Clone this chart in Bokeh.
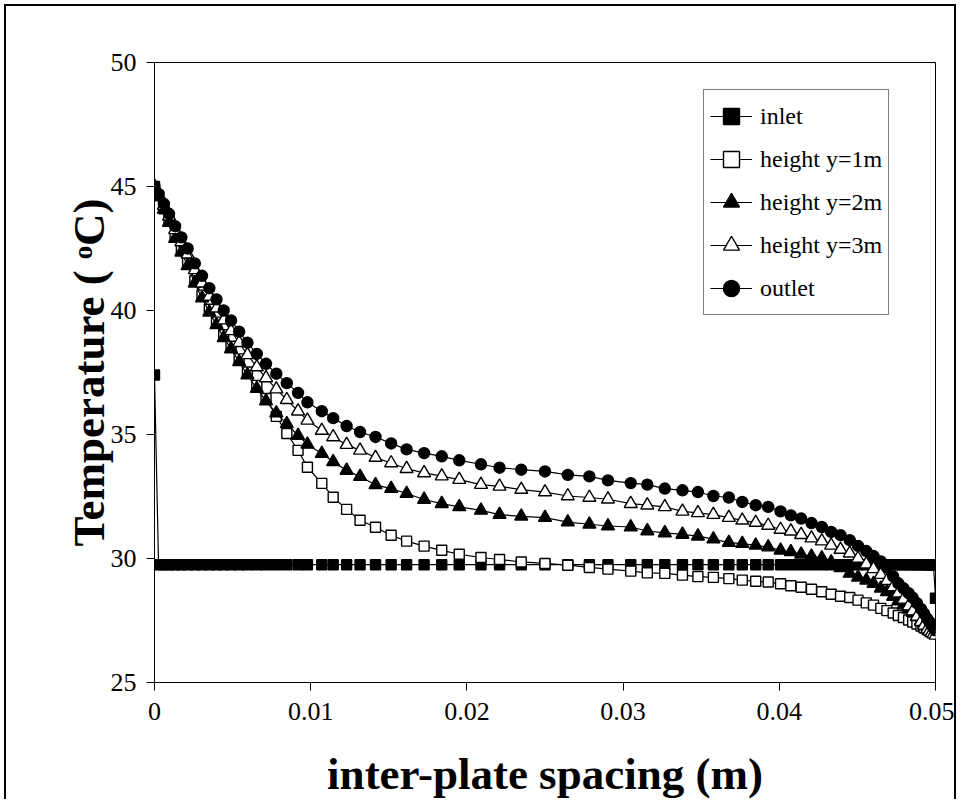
import math
from bokeh.plotting import figure
from bokeh.models import Range1d, FixedTicker, NumeralTickFormatter, Legend, LegendItem
from bokeh.embed import file_html
from bokeh.resources import INLINE

# inter-plate spacing grid (m)
x_m = [0, 0.00026, 0.0006, 0.00093, 0.00132, 0.00172, 0.00212, 0.00258, 0.00304, 0.00351,
       0.00397, 0.00443, 0.0049, 0.00542, 0.00595, 0.00655, 0.00714, 0.0078, 0.00847, 0.00919,
       0.00979, 0.01071, 0.01144, 0.0123, 0.01316, 0.01415, 0.01515, 0.01614, 0.01726, 0.01839,
       0.01951, 0.0209, 0.02209, 0.02348, 0.025, 0.02646, 0.02784, 0.02903, 0.03049, 0.03155,
       0.03267, 0.0338, 0.03479, 0.03578, 0.03677, 0.03763, 0.03849, 0.03929, 0.04008, 0.04074,
       0.0414, 0.04206, 0.04272, 0.04332, 0.04392, 0.04451, 0.04504, 0.04557, 0.04603, 0.0465,
       0.04689, 0.04729, 0.04762, 0.04795, 0.04828, 0.04854, 0.04881, 0.04907, 0.04927, 0.04947,
       0.0496, 0.04974, 0.04987, 0.05]

inlet = [37.4] + [29.75] * 72 + [28.4]

height_1m = [45.0, 44.62, 44.1, 43.6, 42.98, 42.43, 41.9, 41.2, 40.62, 40.05,
             39.53, 39.02, 38.56, 38.05, 37.52, 36.98, 36.45, 35.73, 35.04, 34.36,
             33.68, 33.03, 32.47, 31.98, 31.54, 31.26, 30.94, 30.70, 30.50, 30.33,
             30.17, 30.04, 29.96, 29.86, 29.80, 29.73, 29.64, 29.57, 29.49, 29.42,
             29.40, 29.33, 29.27, 29.24, 29.19, 29.13, 29.08, 29.05, 28.98, 28.90,
             28.84, 28.76, 28.66, 28.56, 28.48, 28.43, 28.32, 28.21, 28.12, 27.99,
             27.90, 27.80, 27.70, 27.62, 27.52, 27.44, 27.36, 27.28, 27.21, 27.15,
             27.10, 27.06, 27.03, 27.00]

height_2m = [45.0, 44.6, 44.08, 43.55, 42.9, 42.35, 41.8, 41.1, 40.5, 39.93,
             39.42, 38.9, 38.45, 37.93, 37.4, 36.85, 36.35, 35.86, 35.43, 34.96,
             34.6, 34.23, 33.9, 33.55, 33.3, 32.97, 32.82, 32.62, 32.38, 32.21,
             32.08, 31.94, 31.77, 31.70, 31.65, 31.47, 31.38, 31.31, 31.27, 31.11,
             31.03, 30.97, 30.90, 30.78, 30.64, 30.60, 30.53, 30.46, 30.33, 30.27,
             30.17, 30.09, 30.02, 29.85, 29.63, 29.40, 29.24, 29.12, 28.99, 28.80,
             28.66, 28.47, 28.28, 28.12, 27.95, 27.82, 27.65, 27.50, 27.38, 27.27,
             27.20, 27.13, 27.07, 27.00]

height_3m = [45.0, 44.67, 44.23, 43.8, 43.25, 42.76, 42.27, 41.64, 41.1, 40.57,
             40.09, 39.61, 39.18, 38.7, 38.21, 37.72, 37.28, 36.83, 36.40, 35.94,
             35.57, 35.16, 34.90, 34.59, 34.36, 34.07, 33.85, 33.62, 33.45, 33.32,
             33.18, 32.98, 32.91, 32.78, 32.68, 32.52, 32.46, 32.39, 32.21, 32.15,
             32.08, 31.90, 31.84, 31.77, 31.65, 31.54, 31.45, 31.33, 31.17, 31.10,
             30.96, 30.82, 30.70, 30.53, 30.36, 30.21, 30.00, 29.77, 29.58, 29.35,
             29.10, 28.85, 28.60, 28.35, 28.08, 27.88, 27.66, 27.45, 27.30, 27.15,
             27.07, 27.00, 26.95, 26.90]

outlet = [45.0, 44.7, 44.3, 43.9, 43.4, 42.95, 42.5, 41.9, 41.4, 40.9,
          40.45, 40.0, 39.6, 39.15, 38.7, 38.25, 37.85, 37.45, 37.07, 36.68,
          36.30, 35.94, 35.66, 35.34, 35.10, 34.90, 34.64, 34.40, 34.25, 34.12,
          33.96, 33.80, 33.66, 33.58, 33.51, 33.37, 33.31, 33.15, 33.04, 32.98,
          32.82, 32.75, 32.68, 32.52, 32.46, 32.28, 32.15, 32.08, 31.90, 31.74,
          31.61, 31.43, 31.27, 31.07, 30.94, 30.74, 30.51, 30.30, 30.10, 29.88,
          29.65, 29.28, 29.00, 28.80, 28.60, 28.42, 28.20, 27.97, 27.78, 27.58,
          27.45, 27.32, 27.20, 27.10]

series_names = ["inlet", "height y=1m", "height y=2m", "height y=3m", "outlet"]
x_ticks = [0, 0.01, 0.02, 0.03, 0.04, 0.05]
y_ticks = [25, 30, 35, 40, 45, 50]

FONT = "Liberation Serif"

p = figure(width=952, height=795, x_range=Range1d(0, 0.05), y_range=Range1d(25, 50),
           output_backend="svg", toolbar_location=None,
           min_border_left=148, min_border_right=23, min_border_top=56, min_border_bottom=118)
p.styles = {"margin-left": "4px", "margin-top": "4px",
            "border-left": "2px solid black", "border-top": "2px solid black",
            "border-right": "2px solid black"}
p.background_fill_color = "white"
p.border_fill_color = "white"
p.outline_line_color = "black"
p.outline_line_width = 1
p.xgrid.visible = False
p.ygrid.visible = False

for ax in (p.xaxis[0], p.yaxis[0]):
    ax.axis_line_color = "black"
    ax.major_tick_line_color = "black"
    ax.major_tick_out = 8
    ax.major_tick_in = 0
    ax.minor_tick_line_color = None
    ax.major_label_text_font = FONT
    ax.major_label_text_font_size = "26px"
    ax.major_label_text_color = "black"
    ax.axis_label_text_font = FONT
    ax.axis_label_text_font_size = "45px"
    ax.axis_label_text_font_style = "bold"
    ax.axis_label_text_color = "black"

p.xaxis.ticker = FixedTicker(ticks=x_ticks)
p.xaxis.formatter = NumeralTickFormatter(format="0.[00]")
p.xaxis.major_label_standoff = 12
p.xaxis.axis_label = "inter-plate spacing (m)"
p.xaxis.axis_label_standoff = 26
p.yaxis.ticker = FixedTicker(ticks=y_ticks)
p.yaxis.major_label_standoff = 10
p.yaxis.axis_label = "Temperature ( ᵒC)"
p.yaxis.axis_label_standoff = -6

styles = [
    dict(marker="square", size=10, fill="black"),
    dict(marker="square", size=10, fill="white"),
    dict(marker="triangle", size=13, fill="black"),
    dict(marker="triangle", size=13, fill="white"),
    dict(marker="circle", size=11, fill="black"),
]
data = [inlet, height_1m, height_2m, height_3m, outlet]

items = []
for name, ys, st in zip(series_names, data, styles):
    ln = p.line(x_m, ys, line_color="black", line_width=1.2)
    sc = p.scatter(x_m, ys, marker=st["marker"], size=st["size"], fill_color=st["fill"],
                   line_color="black", line_width=1.4)
    items.append(LegendItem(label=name, renderers=[ln, sc]))

legend = Legend(items=items, location=(549, 367))
legend.label_text_font = FONT
legend.label_text_font_size = "24px"
legend.label_text_color = "black"
legend.border_line_color = "black"
legend.border_line_width = 1
legend.background_fill_color = "white"
legend.background_fill_alpha = 1
legend.glyph_width = 42
legend.glyph_height = 40
legend.label_height = 40
legend.label_standoff = 8
legend.spacing = 3
legend.padding = 6
legend.margin = 0
p.add_layout(legend, "center")

open("out.html", "w").write(file_html(p, INLINE))
